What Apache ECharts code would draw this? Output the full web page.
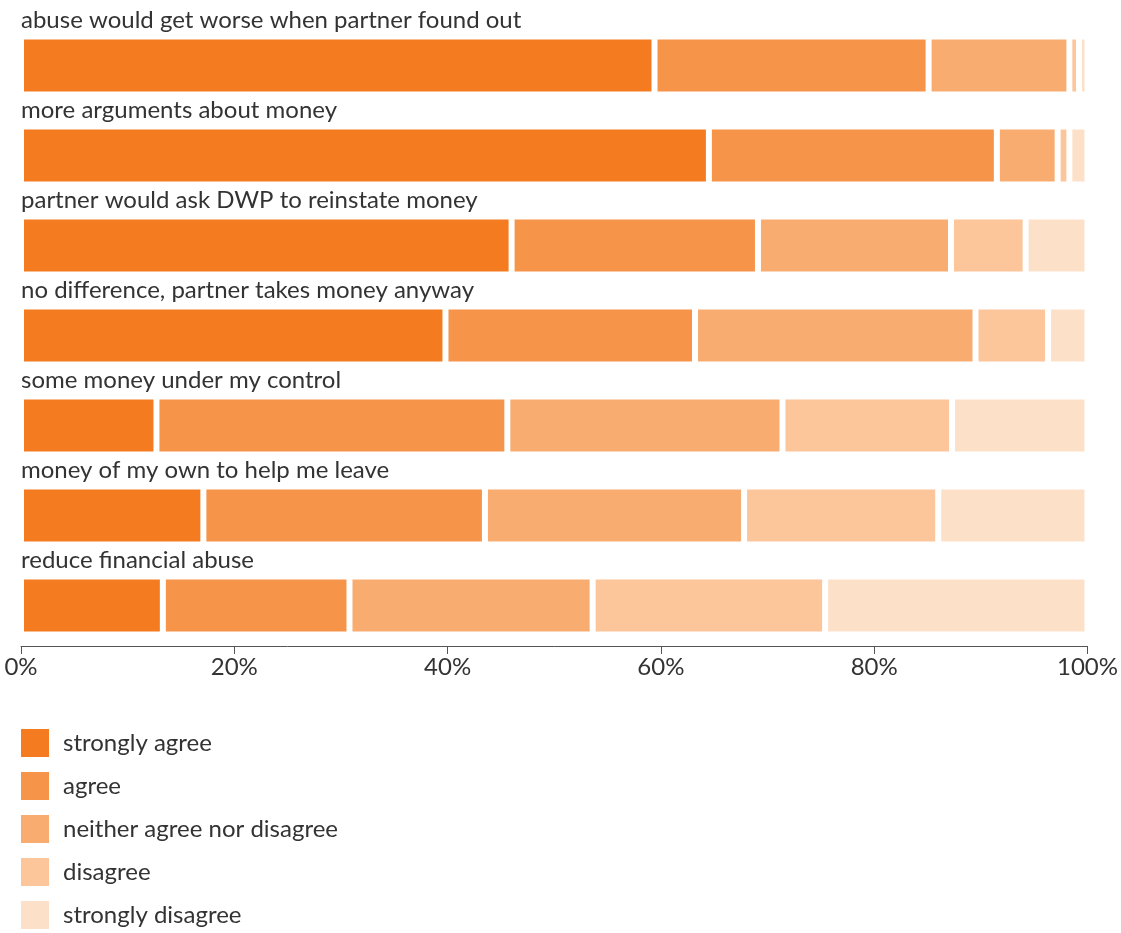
<!DOCTYPE html>
<html><head><meta charset="utf-8">
<script src="https://cdn.jsdelivr.net/npm/echarts@6/dist/echarts.min.js"></script>
<style>html,body{margin:0;padding:0;background:#fff}#c{width:1121px;height:933px}</style>
</head><body><div id="c"></div>
<script>
var categories = ["abuse would get worse when partner found out","more arguments about money","partner would ask DWP to reinstate money","no difference, partner takes money anyway","some money under my control","money of my own to help me leave","reduce financial abuse"];
var seriesNames = ["strongly agree","agree","neither agree nor disagree","disagree","strongly disagree"];
var stronglyAgree = [59.4,64.5,46.0,39.8,12.7,17.1,13.3];
var agree = [25.7,27.0,23.1,23.4,32.9,26.4,17.5];
var neither = [13.2,5.7,18.1,26.3,25.8,24.3,22.8];
var disagree = [0.9,1.1,7.0,6.8,15.9,18.2,21.8];
var stronglyDisagree = [0.8,1.7,5.8,3.7,12.7,14.0,24.6];
var tickLabels = ["0%","20%","40%","60%","80%","100%"];
var colors = ["#F47B20","#F6944A","#F9AC70","#FCC59A","#FDE0C8"];
var values = [stronglyAgree,agree,neither,disagree,stronglyDisagree];
var FONT = "Lato";
var chart = echarts.init(document.getElementById('c'));
chart.setOption({
  animation:false,
  color:colors,
  grid:{left:21,right:33,top:20.5,height:630,containLabel:false},
  legend:{orient:'vertical',left:14,top:722,height:220,itemWidth:30,itemHeight:30,itemGap:11,icon:'rect',
    textStyle:{fontFamily:FONT,fontSize:24,color:'#333',padding:[0,0,0,8]},
    data:seriesNames},
  xAxis:{type:'value',min:0,max:100,interval:20,offset:-4.5,
    axisLine:{show:true,lineStyle:{color:'#555',width:1}},
    axisTick:{show:true,length:8,lineStyle:{color:'#555'}},
    splitLine:{show:false},
    axisLabel:{fontFamily:FONT,fontSize:24,color:'#333',margin:9,
      formatter:function(v){return tickLabels[Math.round(v/20)];}}},
  yAxis:{type:'category',inverse:true,data:categories,
    axisLine:{show:false},axisTick:{show:false},
    axisLabel:{inside:true,margin:0,fontFamily:FONT,fontSize:24,color:'#333',
      verticalAlign:'bottom',lineHeight:26,padding:[0,0,32,0]}},
  series:values.map(function(arr,i){return {
    name:seriesNames[i],type:'bar',stack:'all',barWidth:58,data:arr,
    itemStyle:{borderColor:'#fff',borderWidth:3},z:2};})
});
</script></body></html>
